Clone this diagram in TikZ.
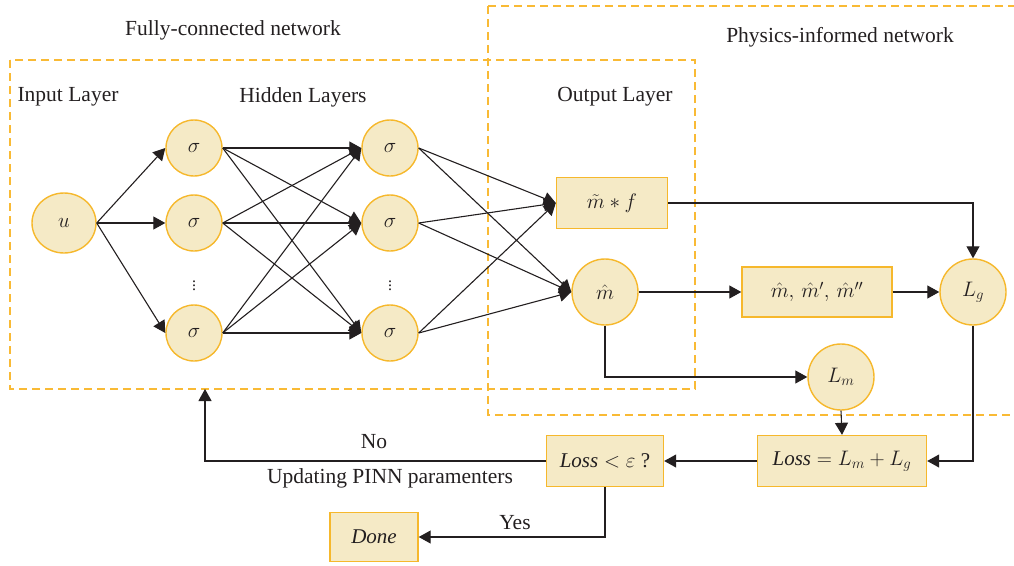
\RequirePackage{fix-cm}
\documentclass[tikz,border=0pt]{standalone}
\usepackage{fontspec}
\setmainfont{Liberation Serif}
\usetikzlibrary{arrows.meta,shapes.geometric}
\definecolor{nfill}{HTML}{F5EAC6}
\definecolor{nedge}{HTML}{F6B82C}
\definecolor{dash}{HTML}{F9BA35}
\definecolor{ink}{HTML}{231F20}
\tikzset{
  neuron/.style={circle,draw=nedge,fill=nfill,line width=1.4pt,minimum size=56pt,inner sep=0pt,text=ink,font=\fontsize{21}{25}\selectfont},
  bignode/.style={circle,draw=nedge,fill=nfill,line width=1.4pt,minimum size=66pt,inner sep=0pt,text=ink,font=\fontsize{21}{25}\selectfont},
  stepbox/.style={rectangle,draw=nedge,fill=nfill,line width=1.4pt,inner sep=0pt,text=ink,font=\fontsize{21}{25}\selectfont},
  region/.style={draw=dash,line width=1.3pt,dash pattern=on 8pt off 5pt},
  lbl/.style={text=ink,font=\fontsize{21.5}{25}\selectfont},
  conn/.style={draw=ink,line width=1.1pt,-{Triangle[length=12pt,width=13pt]}},
}
\begin{document}
\begin{tikzpicture}[x=1pt,y=-1pt]
\useasboundingbox (0,0) rectangle (1014,565);
% regions
\draw[region] (10,60) rectangle (695,389);
\draw[region] (488,6) -- (1014,6);
\draw[region] (488,6) -- (488,415) -- (1014,415);
% titles
\node[lbl] (tfc) at (233,30) {Fully-connected network};
\node[lbl] (tpi) at (840,37) {Physics-informed network};
\node[lbl] (til) at (68,97) {Input Layer};
\node[lbl] (thl) at (303,97) {Hidden Layers};
\node[lbl] (tol) at (615,97) {Output Layer};
% nodes
\node[neuron,minimum width=64pt,minimum height=60pt,ellipse] (u) at (64,223) {$u$};
\node[neuron] (a1) at (194,148) {$\sigma$};
\node[neuron] (a2) at (194,223) {$\sigma$};
\node[neuron] (a3) at (194,333) {$\sigma$};
\node[neuron] (b1) at (390,148) {$\sigma$};
\node[neuron] (b2) at (390,223) {$\sigma$};
\node[neuron] (b3) at (390,333) {$\sigma$};
\node[text=ink,font=\fontsize{16}{20}\selectfont] (d1) at (194,283) {$\vdots$};
\node[text=ink,font=\fontsize{16}{20}\selectfont] (d2) at (390,283) {$\vdots$};
\node[stepbox,minimum width=111pt,minimum height=51pt] (mf) at (612,203) {$\tilde{m}*f$};
\node[bignode] (mh) at (605,292) {$\hat{m}$};
\node[stepbox,minimum width=150pt,minimum height=50pt] (md) at (817,292) {$\hat{m},\,\hat{m}',\,\hat{m}''$};
\node[bignode] (lg) at (973,292) {$L_g$};
\node[bignode] (lm) at (841,377) {$L_m$};
\node[stepbox,minimum width=169pt,minimum height=51pt] (loss) at (842,461) {$\mathit{Loss}=L_m+L_g$};
\node[stepbox,minimum width=117pt,minimum height=51pt] (chk) at (605,461) {$\mathit{Loss}<\varepsilon$ ?};
\node[stepbox,minimum width=88pt,minimum height=49pt] (done) at (374,537) {\textit{Done}};
% input to hidden
\foreach \t in {a1,a2,a3} \draw[conn] (u.east) -- (\t.west);
\foreach \s in {a1,a2,a3} \foreach \t in {b1,b2,b3} \draw[conn] (\s.east) -- (\t.west);
\foreach \s in {b1,b2,b3} {\draw[conn] (\s.east) -- (mf.west); \draw[conn] (\s.east) -- (mh.west);}
% physics part
\draw[conn] (mh.east) -- (md.west);
\draw[conn] (md.east) -- (lg.west);
\draw[conn] (mf.east) -| (lg.north);
\draw[conn] (mh.south) |- (lm.west);
\draw[conn] (lm.south) -- (loss.north);
\draw[conn] (lg.south) |- (loss.east);
\draw[conn] (loss.west) -- (chk.east);
\coordinate (fcb) at (205,389);
\draw[conn] (chk.west) -| (fcb);
\draw[conn] (chk.south) |- (done.east);
\node[lbl] (no) at (374,442) {No};
\node[lbl] (upd) at (390,478) {Updating PINN paramenters};
\node[lbl] (yes) at (515,523) {Yes};
\end{tikzpicture}
\end{document}
